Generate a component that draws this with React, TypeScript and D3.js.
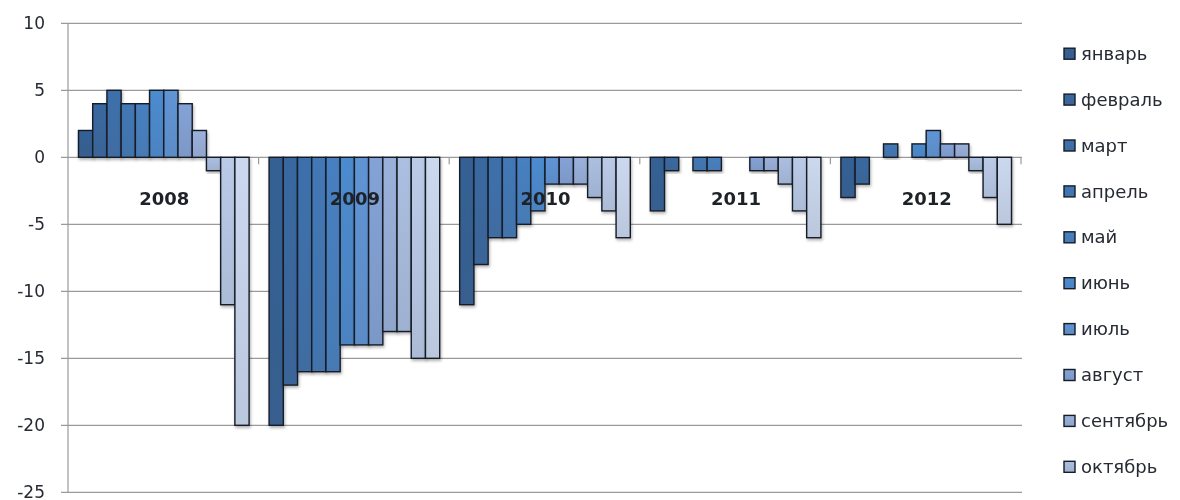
import React from 'react';
import * as d3 from 'd3';

// Monthly change by year (percent), one series per month
const years = ['2008', '2009', '2010', '2011', '2012'];
const months = ['январь', 'февраль', 'март', 'апрель', 'май', 'июнь', 'июль', 'август', 'сентябрь', 'октябрь', 'ноябрь', 'декабрь'];
const values2008 = [2, 4, 5, 4, 4, 5, 5, 4, 2, -1, -11, -20];
const values2009 = [-20, -17, -16, -16, -16, -14, -14, -14, -13, -13, -15, -15];
const values2010 = [-11, -8, -6, -6, -5, -4, -2, -2, -2, -3, -4, -6];
const values2011 = [-4, -1, 0, -1, -1, 0, 0, -1, -1, -2, -4, -6];
const values2012 = [-3, -2, 0, 1, 0, 1, 2, 1, 1, -1, -3, -5];
const yTicks = [-25, -20, -15, -10, -5, 0, 5, 10];

const seriesByYear = [values2008, values2009, values2010, values2011, values2012];

const monthColors = [
  '#2c5a90', '#31629c', '#366aa7', '#3b72b2', '#3f7bbd', '#4486cd',
  '#5890d3', '#7f9ed4', '#96aed9', '#a8bcdf', '#b8c8e6', '#cad6ed',
];

const W = 1180;
const H = 500;
const plot = { left: 68, right: 1021, top: 23.3, bottom: 492.3 };
const FONT = '"DejaVu Sans", "Open Sans", sans-serif';
const legendTop = 53.7;
const legendStep = 45.9;

export default function App() {
  const y = d3.scaleLinear().domain([-25, 10]).range([plot.bottom, plot.top]);
  const x0 = d3.scaleBand<string>().domain(years).range([plot.left, plot.right]).padding(0);
  const bw = x0.bandwidth();
  const x1 = d3.scaleBand<string>().domain(months).range([10.5, bw - 9.5]).padding(0);
  const y0 = y(0);

  // legend entries that fit in the chart area (the rest overflow the frame)
  const legendItems = months
    .map((m, i) => ({ m, i, cy: legendTop + i * legendStep }))
    .filter((d) => d.cy + 12 < H);

  return (
    <>
      <style>{'body{margin:0;background:#fff}'}</style>
      <svg width={W} height={H} style={{ display: 'block' }}>
        <defs>
          {monthColors.map((c, i) => (
            <linearGradient key={i} id={`g${i}`} x1="0" y1="0" x2="0" y2="1">
              <stop offset="0" stopColor={d3.interpolateRgb(c, '#ffffff')(0.04)} />
              <stop offset="1" stopColor={d3.interpolateRgb(c, '#6f7684')(0.16)} />
            </linearGradient>
          ))}
          <filter id="shadow" x="-30%" y="-10%" width="160%" height="130%">
            <feDropShadow dx="1" dy="2" stdDeviation="1.6" floodColor="#000" floodOpacity="0.3" />
          </filter>
          <filter id="soft" x="-5%" y="-5%" width="110%" height="110%">
            <feGaussianBlur stdDeviation="0.35" />
          </filter>
        </defs>

        <g filter="url(#soft)">
          {/* horizontal gridlines with left tick marks */}
          {yTicks.map((t) => (
            <line key={t} x1={61} x2={plot.right + 1} y1={y(t)} y2={y(t)} stroke="#9a9a9a" strokeWidth={1.2} />
          ))}
          {/* value axis */}
          <line x1={plot.left} x2={plot.left} y1={plot.top} y2={plot.bottom} stroke="#9a9a9a" strokeWidth={1.2} />
          {/* category ticks on the zero axis */}
          {years.map((yr) => (
            <line key={yr} x1={(x0(yr) as number) + bw} x2={(x0(yr) as number) + bw} y1={y0} y2={y0 + 7} stroke="#9a9a9a" strokeWidth={1.2} />
          ))}

          {/* bars */}
          {years.map((yr, yi) => (
            <g key={yr} transform={`translate(${x0(yr)},0)`}>
              {seriesByYear[yi].map((v, mi) => {
                if (v === 0) return null;
                const top = y(Math.max(0, v));
                const h = Math.abs(y(v) - y0);
                return (
                  <g key={mi} filter="url(#shadow)">
                    <rect
                      x={x1(months[mi])}
                      y={top}
                      width={x1.bandwidth()}
                      height={h}
                      fill={`url(#g${mi})`}
                      stroke="#161c26"
                      strokeWidth={1.4}
                    />
                  </g>
                );
              })}
            </g>
          ))}

          {/* tick labels */}
          {yTicks.map((t) => (
            <text key={t} x={45} y={y(t)} dy="0.36em" textAnchor="end" fontFamily={FONT} fontSize={17} fill="#262a33">
              {t}
            </text>
          ))}

          {/* year labels */}
          {years.map((yr) => (
            <text key={yr} x={(x0(yr) as number) + bw / 2 + 1} y={y0 + 48} textAnchor="middle" fontFamily={FONT} fontSize={18} fontWeight="bold" fill="#1e2128">
              {yr}
            </text>
          ))}

          {/* legend */}
          {legendItems.map(({ m, i, cy }) => (
            <g key={m}>
              <rect x={1064} y={cy - 5.5} width={11} height={11} fill={`url(#g${i})`} stroke="#161c26" strokeWidth={1.4} />
              <text x={1081} y={cy} dy="0.34em" fontFamily={FONT} fontSize={18} fill="#262a33">
                {m}
              </text>
            </g>
          ))}
        </g>
      </svg>
    </>
  );
}
